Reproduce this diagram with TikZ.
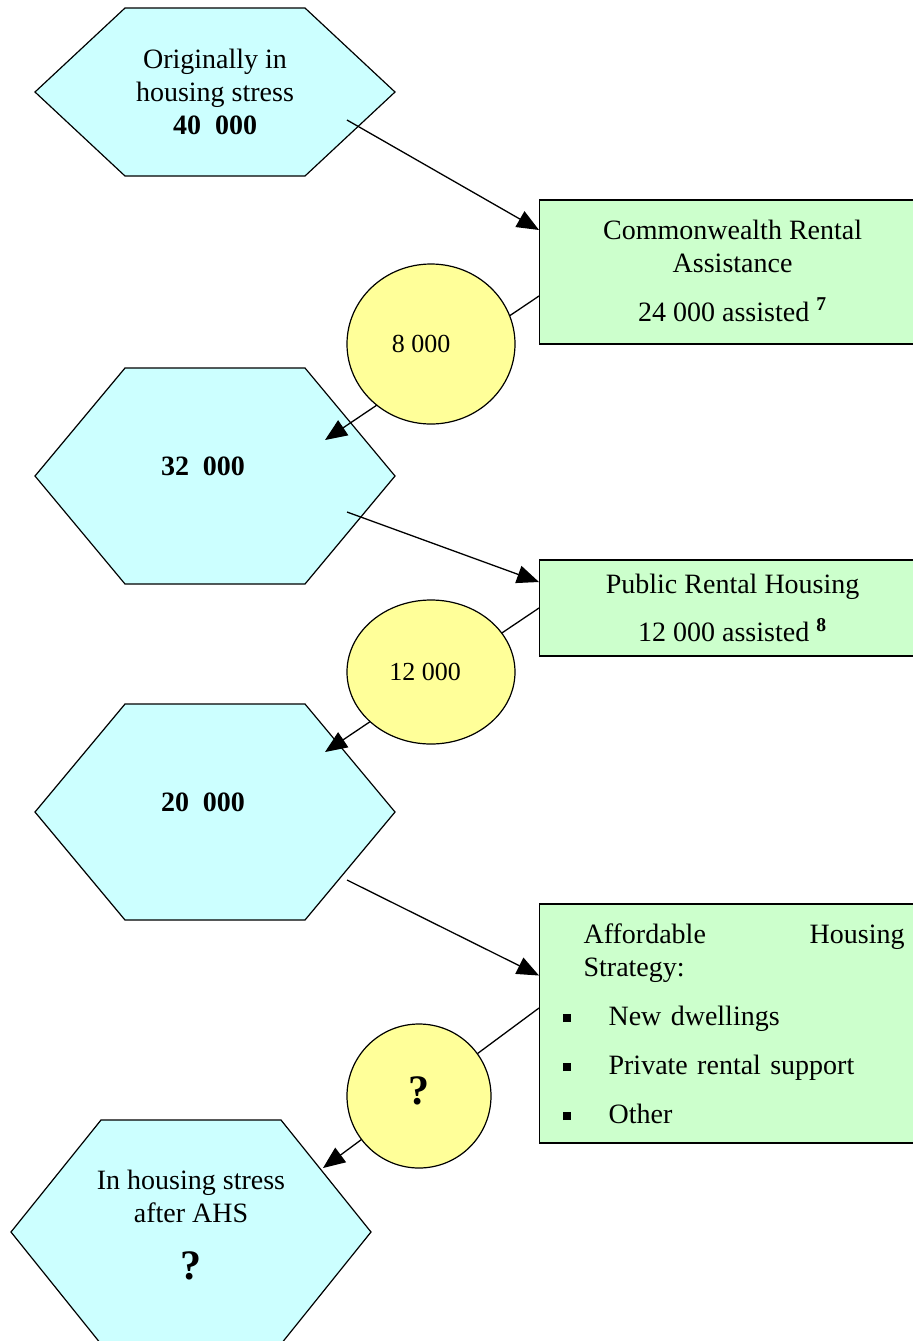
\documentclass[tikz,border=0pt]{standalone}
\usepackage{fontspec}
\setmainfont{Liberation Serif}
\usetikzlibrary{positioning, arrows.meta, shapes.geometric}
\definecolor{stresscyan}{HTML}{CCFFFF}
\definecolor{schemegreen}{HTML}{CCFFCC}
\definecolor{flowyellow}{HTML}{FFFF99}
\newcommand{\ahsitem}[1]{\hspace*{11.5pt}\rule[1.5pt]{4pt}{4pt}\hspace*{19pt}#1}

\begin{document}
\begin{tikzpicture}[
    x=0.5pt, y=-0.5pt,
    hexagon/.style={draw, fill=stresscyan, line width=0.6pt},
    hextext/.style={align=center},
    scheme/.style={draw, fill=schemegreen, line width=0.6pt, minimum width=193pt, inner sep=0pt, anchor=west},
    flow/.style={ellipse, draw, fill=flowyellow, line width=0.6pt, inner sep=0pt, font=\fontsize{13}{15}\selectfont},
    arr/.style={-{Triangle[length=11pt, width=9pt]}, line width=0.65pt},
    every node/.style={font=\fontsize{14}{16.5}\selectfont}
]
\useasboundingbox (0,0) rectangle (912,1341);

% Households in stress
\draw[hexagon] (35,92) -- ++(90,-84) -- ++(180,0) -- ++(90,84) -- ++(-90,84) -- ++(-180,0) -- cycle;
\draw[hexagon] (35,476) -- ++(90,-108) -- ++(180,0) -- ++(90,108) -- ++(-90,108) -- ++(-180,0) -- cycle;
\draw[hexagon] (35,812) -- ++(90,-108) -- ++(180,0) -- ++(90,108) -- ++(-90,108) -- ++(-180,0) -- cycle;
\draw[hexagon] (11,1232) -- ++(90,-112) -- ++(180,0) -- ++(90,112) -- ++(-90,112) -- ++(-180,0) -- cycle;

\node[hextext] (orig) at (215,92) {Originally in\\housing stress\\\textbf{40\ \ 000}};
\node[hextext] (s32) at (203,466) {\textbf{32\ \ 000}};
\node[hextext] (s20) at (203,802) {\textbf{20\ \ 000}};
\node[hextext] (after) at (191,1225) {In housing stress\\after AHS\\[12pt]{\fontsize{21}{22}\selectfont\bfseries ?}};

\coordinate (orig-out) at (347,120);
\coordinate (s32-in) at (325,440);
\coordinate (s32-out) at (347,512);
\coordinate (s20-in) at (325,752);
\coordinate (s20-out) at (347,880);
\coordinate (after-in) at (323,1168);

% Assistance schemes
\node[scheme, minimum height=72pt, align=center] (cra) at (539,272) {\raisebox{1.5pt}{Commonwealth Rental}\\\raisebox{1.5pt}{Assistance}\\[8pt]\raisebox{1.5pt}{24 000 assisted \textsuperscript{\textbf{7}}}};
\node[scheme, minimum height=48pt, align=center] (prh) at (539,608) {\raisebox{-2pt}{Public Rental Housing}\\[7.5pt]\raisebox{-2pt}{12 000 assisted \textsuperscript{\textbf{8}}}};
\node[scheme, minimum height=119.5pt, text width=193pt, align=left] (ahs) at (539,1023.5) {%
\hspace*{22pt}\makebox[160.5pt][l]{Affordable\hfill Housing}\\
\hspace*{22pt}Strategy:\\[8pt]
\ahsitem{New dwellings}\\[8pt]
\ahsitem{Private rental support}\\[8pt]
\ahsitem{Other}};

% Arrows
\draw[arr] (orig-out) -- ([yshift=21pt]cra.west);
\draw[arr] ([yshift=-12pt]cra.west) -- (s32-in);
\draw[arr] (s32-out) -- ([yshift=13pt]prh.west);
\draw[arr] (prh.west) -- (s20-in);
\draw[arr] (s20-out) -- ([yshift=24pt]ahs.west);
\draw[arr] ([yshift=7.75pt]ahs.west) -- (after-in);

% Flows
\node[flow, minimum width=84pt, minimum height=80pt] (f8) at (431,344) {\raisebox{-4pt}{8 000\hspace*{10pt}}};
\node[flow, minimum width=84pt, minimum height=72pt] (f12) at (431,672) {12 000\hspace*{6pt}};
\node[flow, minimum width=72pt, minimum height=72pt, font=\fontsize{21}{22}\selectfont\bfseries] (fq) at (419,1096) {\raisebox{5pt}{?}};

\end{tikzpicture}
\end{document}
